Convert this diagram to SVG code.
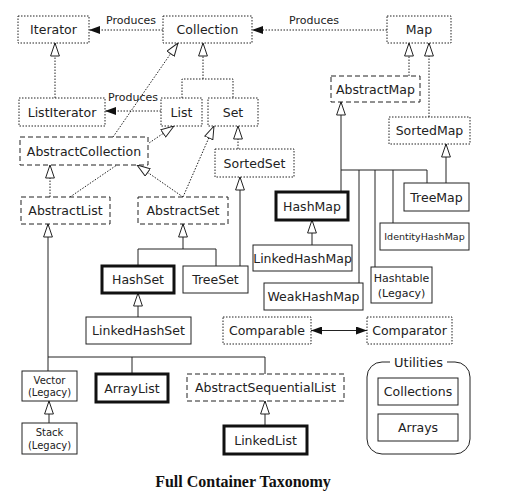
<svg xmlns="http://www.w3.org/2000/svg" width="524" height="503" viewBox="0 0 524 503">
<defs>
<style>
.ifc{fill:#fff;stroke:#222;stroke-width:1;stroke-dasharray:1.5 1.5}
.abs{fill:#fff;stroke:#222;stroke-width:1;stroke-dasharray:5 3}
.cls{fill:#fff;stroke:#222;stroke-width:1}
.key{fill:#fff;stroke:#111;stroke-width:3}
text{font-family:"DejaVu Sans","Liberation Sans",sans-serif;fill:#222;text-anchor:middle}
.t{font-size:12.5px}
.s{font-size:10px}
.p{font-size:11px}
.dot{fill:none;stroke:#222;stroke-width:1;stroke-dasharray:1.5 1.5}
.sol{fill:none;stroke:#222;stroke-width:1}
.tri{marker-end:url(#tri)}
.prod{marker-end:url(#fa)}
</style>
<marker id="tri" viewBox="0 0 14 10" refX="13.5" refY="5" markerWidth="14" markerHeight="10" orient="auto" markerUnits="userSpaceOnUse">
<path d="M13.5,5 L0.5,0.6 L0.5,9.4 Z" fill="#fff" stroke="#222" stroke-width="1"/>
</marker>
<marker id="fa" viewBox="0 0 11 8" refX="11" refY="4" markerWidth="11" markerHeight="8" orient="auto" markerUnits="userSpaceOnUse">
<path d="M11,4 L0,0 L0,8 Z" fill="#111"/>
</marker>
<marker id="fas" viewBox="0 0 11 8" refX="0" refY="4" markerWidth="11" markerHeight="8" orient="auto" markerUnits="userSpaceOnUse">
<path d="M0,4 L11,0 L11,8 Z" fill="#111"/>
</marker>
</defs>
<rect width="524" height="503" fill="#fff"/>

<g id="connectors">
<line class="dot prod" x1="163" y1="30" x2="89" y2="30"/>
<text class="p" x="131" y="24">Produces</text>
<line class="dot prod" x1="387" y1="30" x2="252" y2="30"/>
<text class="p" x="314" y="24">Produces</text>
<line class="dot prod" x1="161" y1="111" x2="105" y2="111"/>
<text class="p" x="133" y="101">Produces</text>
<line class="dot tri" x1="55" y1="98" x2="55" y2="43"/>
<path class="dot" d="M182,98 V79 H233 V98"/>
<line class="dot tri" x1="203" y1="79" x2="203" y2="43"/>
<line class="dot tri" x1="113" y1="137" x2="178" y2="43"/>
<line class="dot tri" x1="70" y1="197" x2="174" y2="126"/>
<line class="dot tri" x1="50" y1="197" x2="50" y2="165"/>
<line class="dot tri" x1="183" y1="197" x2="137" y2="165"/>
<line class="dot tri" x1="183" y1="197" x2="214" y2="126"/>
<line class="dot tri" x1="238" y1="149" x2="238" y2="126"/>
<line class="sol tri" x1="240" y1="266" x2="240" y2="177"/>
<path class="sol" d="M138,266 V249 H216 V266"/>
<line class="sol tri" x1="183" y1="249" x2="183" y2="224"/>
<line class="sol tri" x1="138" y1="317" x2="138" y2="293"/>
<line class="sol tri" x1="48" y1="371" x2="48" y2="224"/>
<path class="sol" d="M48,357 H265 V374 M132,357 V374"/>
<line class="sol tri" x1="49" y1="423" x2="49" y2="401"/>
<line class="sol tri" x1="265" y1="426" x2="265" y2="401"/>
<line class="sol" x1="311" y1="330.5" x2="367" y2="330.5" marker-start="url(#fas)" marker-end="url(#fa)"/>
<line class="dot tri" x1="409" y1="76" x2="409" y2="43"/>
<line class="dot tri" x1="429" y1="117" x2="429" y2="43"/>
<line class="sol tri" x1="446" y1="183" x2="446" y2="144"/>
<line class="sol tri" x1="341" y1="192" x2="341" y2="102"/>
<path class="sol" d="M341,170 H427 V183 M359,170 V283 M375,170 V267 M393,170 V223"/>
<line class="sol tri" x1="312" y1="245" x2="312" y2="220"/>
</g>

<g id="Iterator"><rect class="ifc" x="18" y="16" width="71" height="27"/><text class="t" x="53.5" y="34">Iterator</text></g>
<g id="Collection"><rect class="ifc" x="163" y="16" width="89" height="27"/><text class="t" x="207.5" y="34">Collection</text></g>
<g id="Map"><rect class="ifc" x="387" y="16" width="64" height="27"/><text class="t" x="419" y="34">Map</text></g>
<g id="ListIterator"><rect class="ifc" x="19" y="98" width="86" height="28"/><text class="t" x="62" y="116.5">ListIterator</text></g>
<g id="List"><rect class="ifc" x="161" y="98" width="41" height="28"/><text class="t" x="181.5" y="116.5">List</text></g>
<g id="Set"><rect class="ifc" x="208" y="98" width="50" height="28"/><text class="t" x="233" y="116.5">Set</text></g>
<g id="AbstractMap"><rect class="abs" x="331" y="76" width="89" height="26"/><text class="t" x="375.5" y="93.5">AbstractMap</text></g>
<g id="SortedMap"><rect class="ifc" x="389" y="117" width="81" height="27"/><text class="t" x="429.5" y="135">SortedMap</text></g>
<g id="AbstractCollection"><rect class="abs" x="20" y="137" width="128" height="28"/><text class="t" x="84" y="155.5">AbstractCollection</text></g>
<g id="SortedSet"><rect class="ifc" x="215" y="149" width="79" height="28"/><text class="t" x="254.5" y="167.5">SortedSet</text></g>
<g id="AbstractList"><rect class="abs" x="21" y="197" width="89" height="27"/><text class="t" x="65.5" y="215">AbstractList</text></g>
<g id="AbstractSet"><rect class="abs" x="138" y="197" width="90" height="27"/><text class="t" x="183" y="215">AbstractSet</text></g>
<g id="TreeMap"><rect class="cls" x="404" y="183" width="65" height="28"/><text class="t" x="436.5" y="201.5">TreeMap</text></g>
<g id="HashMap"><rect class="key" x="276" y="192" width="72" height="28"/><text class="t" x="312" y="210.5">HashMap</text></g>
<g id="IdentityHashMap"><rect class="cls" x="380" y="223" width="89" height="27"/><text class="s" x="424.5" y="240" font-size="9.5px" style="font-size:9.5px">IdentityHashMap</text></g>
<g id="LinkedHashMap"><rect class="cls" x="253" y="245" width="99" height="26"/><text class="t" x="302.5" y="262.5">LinkedHashMap</text></g>
<g id="HashSet"><rect class="key" x="102" y="266" width="72" height="27"/><text class="t" x="138" y="284">HashSet</text></g>
<g id="TreeSet"><rect class="cls" x="183" y="266" width="65" height="27"/><text class="t" x="215.5" y="284">TreeSet</text></g>
<g id="Hashtable"><rect class="cls" x="371" y="267" width="61" height="36"/><text class="p" x="401.5" y="282">Hashtable</text><text class="p" x="401.5" y="297">(Legacy)</text></g>
<g id="WeakHashMap"><rect class="cls" x="264" y="283" width="99" height="27"/><text class="t" x="313.5" y="301">WeakHashMap</text></g>
<g id="LinkedHashSet"><rect class="cls" x="86" y="317" width="105" height="27"/><text class="t" x="138.5" y="335">LinkedHashSet</text></g>
<g id="Comparable"><rect class="ifc" x="223" y="317" width="88" height="27"/><text class="t" x="267" y="335">Comparable</text></g>
<g id="Comparator"><rect class="ifc" x="367" y="317" width="85" height="27"/><text class="t" x="409.5" y="335">Comparator</text></g>
<g id="Vector"><rect class="cls" x="22" y="371" width="55" height="30"/><text class="s" x="49.5" y="383.5">Vector</text><text class="s" x="49.5" y="396">(Legacy)</text></g>
<g id="ArrayList"><rect class="key" x="96" y="374" width="72" height="28"/><text class="t" x="132" y="392.5">ArrayList</text></g>
<g id="AbstractSequentialList"><rect class="abs" x="187" y="374" width="157" height="27"/><text class="t" x="265.5" y="392">AbstractSequentialList</text></g>
<g id="Stack"><rect class="cls" x="22" y="423" width="55" height="31"/><text class="s" x="49.5" y="435.5">Stack</text><text class="s" x="49.5" y="448.5">(Legacy)</text></g>
<g id="LinkedList"><rect class="key" x="224" y="426" width="83" height="28"/><text class="t" x="265.5" y="444.5">LinkedList</text></g>
<g id="Utilities">
<rect x="367" y="362" width="103" height="92" rx="15" ry="15" fill="none" stroke="#222" stroke-width="1"/>
<rect x="390" y="356" width="57" height="12" fill="#fff"/>
<text x="418.5" y="366.5" style="font-size:13px">Utilities</text>
<g id="Collections"><rect class="cls" x="378" y="378" width="80" height="27"/><text class="t" x="418" y="396">Collections</text></g>
<g id="Arrays"><rect class="cls" x="378" y="414" width="80" height="27"/><text class="t" x="418" y="432">Arrays</text></g>
</g>
<text x="243" y="487" style="font-family:'Liberation Serif',serif;font-weight:bold;font-size:16px;fill:#111">Full Container Taxonomy</text>
</svg>
